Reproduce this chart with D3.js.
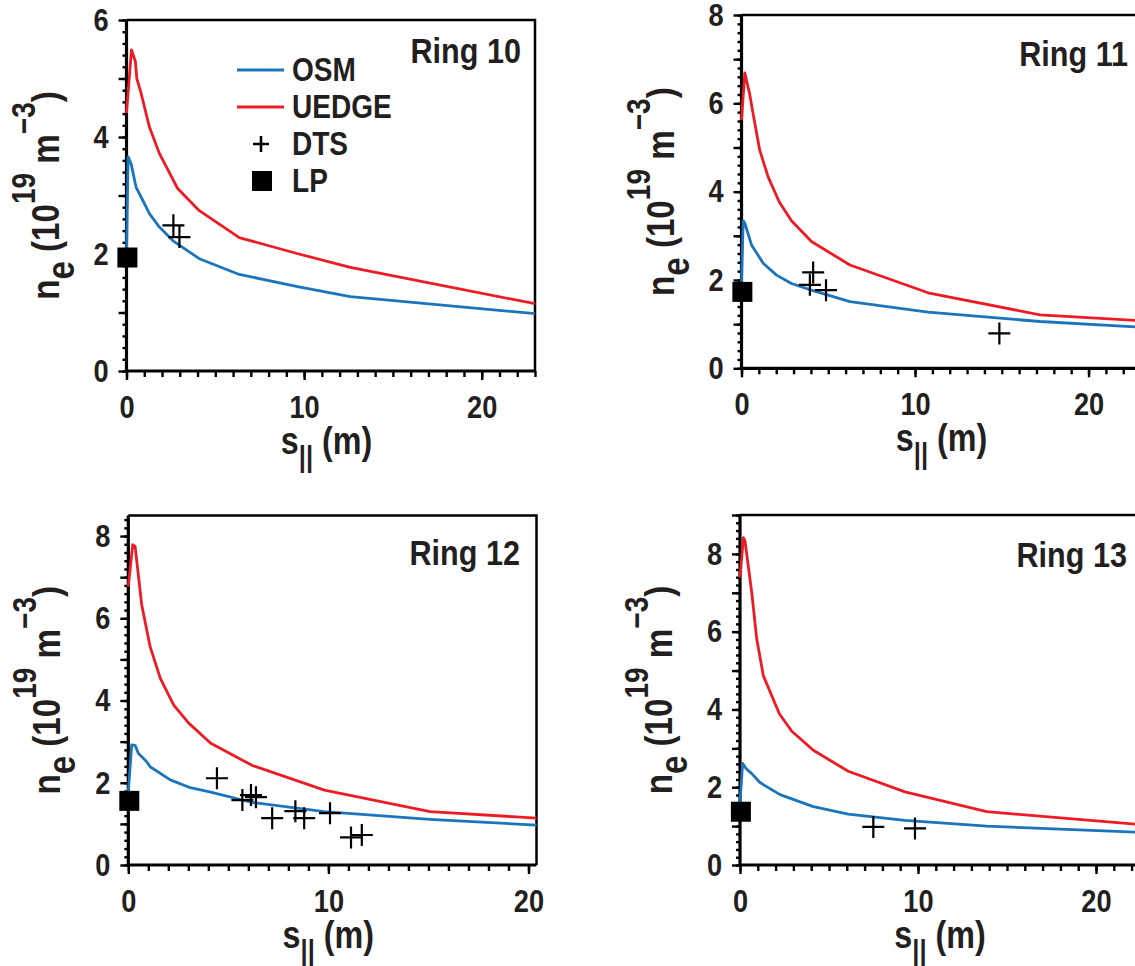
<!DOCTYPE html>
<html>
<head>
<meta charset="utf-8">
<script src="https://cdn.jsdelivr.net/npm/d3@7.9.0/dist/d3.min.js"></script>
<style>
  body { margin: 0; background: #fff; }
  svg text { font-family: "Liberation Sans", Arial, sans-serif; font-weight: bold; fill: #231f20; }
</style>
</head>
<body>
<svg id="chart" width="1135" height="966"></svg>
<script>
// values: [s_par (m), n_e (1e19 m^-3)]
const ring10Osm = [[0, 2.0], [0.09, 3.66], [0.26, 3.54], [0.54, 3.14], [0.73, 3.03], [1.29, 2.69], [1.85, 2.46], [2.6, 2.23], [4.1, 1.92], [6.35, 1.65], [9.7, 1.44], [12.6, 1.27], [23.0, 0.98]];
const ring10Uedge = [[0, 4.41], [0.28, 5.49], [0.5, 5.29], [0.58, 5.0], [0.83, 4.74], [1.29, 4.17], [1.85, 3.72], [2.88, 3.12], [4.1, 2.74], [6.35, 2.28], [9.7, 2.0], [12.6, 1.77], [23.0, 1.15]];
const ring10Dts = [[2.64, 2.49], [2.98, 2.29]];
const ring10Lp = [[0.05, 1.94]];

const ring11Osm = [[0, 1.96], [0.1, 3.34], [0.19, 3.29], [0.58, 2.79], [1.25, 2.38], [2.02, 2.11], [2.88, 1.92], [4.03, 1.77], [6.25, 1.51], [10.75, 1.27], [17.2, 1.06], [23.0, 0.93]];
const ring11Uedge = [[0, 5.62], [0.19, 6.69], [0.48, 6.19], [0.63, 5.85], [1.05, 4.94], [1.53, 4.34], [2.17, 3.77], [2.88, 3.34], [4.03, 2.87], [6.25, 2.34], [10.75, 1.71], [17.2, 1.21], [23.0, 1.08]];
const ring11Dts = [[4.13, 2.17], [3.94, 1.89], [4.87, 1.77], [14.86, 0.79]];
const ring11Lp = [[0.05, 1.73]];

const ring12Osm = [[0, 1.78], [0.17, 2.92], [0.34, 2.91], [0.5, 2.72], [0.92, 2.51], [1.09, 2.39], [2.1, 2.07], [3.1, 1.88], [4.12, 1.77], [6.2, 1.52], [9.8, 1.30], [15.08, 1.11], [20.4, 0.97]];
const ring12Uedge = [[0, 6.77], [0.22, 7.79], [0.34, 7.75], [0.67, 6.33], [1.09, 5.31], [1.6, 4.54], [2.27, 3.89], [3.02, 3.45], [4.12, 2.96], [6.2, 2.42], [9.8, 1.82], [15.08, 1.30], [20.4, 1.14]];
const ring12Dts = [[4.43, 2.11], [5.7, 1.58], [6.13, 1.70], [6.38, 1.65], [7.19, 1.14], [8.35, 1.31], [8.79, 1.14], [10.08, 1.26], [11.13, 0.67], [11.67, 0.73]];
const ring12Lp = [[0.05, 1.56]];

const ring13Osm = [[0, 1.62], [0.15, 2.61], [0.34, 2.48], [0.66, 2.35], [1.12, 2.12], [2.25, 1.81], [4.12, 1.50], [6.08, 1.31], [9.27, 1.15], [13.86, 1.0], [23.0, 0.83]];
const ring13Uedge = [[0, 7.39], [0.19, 8.42], [0.28, 8.33], [0.66, 7.01], [0.94, 5.81], [1.31, 4.87], [2.21, 3.89], [2.91, 3.44], [4.12, 2.95], [6.08, 2.41], [9.27, 1.88], [13.86, 1.37], [23.0, 1.02]];
const ring13Dts = [[7.49, 0.98], [9.83, 0.94]];
const ring13Lp = [[0.05, 1.37]];

const ringNames = ["Ring 10", "Ring 11", "Ring 12", "Ring 13"];
const legendLabels = ["OSM", "UEDGE", "DTS", "LP"];
const xTickLabels = [0, 10, 20];

const blue = "#1b75bc", red = "#ed1c24";
const SQ = 0.85; // horizontal squeeze to mimic a condensed bold face

// plot boxes in page pixels
const panels = [
  { name: ringNames[0], osm: ring10Osm, uedge: ring10Uedge, dts: ring10Dts, lp: ring10Lp,
    x0: 126.5, x1: 535, y0: 371, y1: 20, xmax: 23, ymax: 6, ringX: 521, ringY: 63, legend: true },
  { name: ringNames[1], osm: ring11Osm, uedge: ring11Uedge, dts: ring11Dts, lp: ring11Lp,
    x0: 741.5, x1: 1140.6, y0: 368.3, y1: 15, xmax: 23, ymax: 8, ringX: 1128, ringY: 66 },
  { name: ringNames[2], osm: ring12Osm, uedge: ring12Uedge, dts: ring12Dts, lp: ring12Lp,
    x0: 128.3, x1: 536.5, y0: 865, y1: 515.5, xmax: 20.4, ymax: 8.5, ringX: 520, ringY: 565 },
  { name: ringNames[3], osm: ring13Osm, uedge: ring13Uedge, dts: ring13Dts, lp: ring13Lp,
    x0: 740, x1: 1149.4, y0: 865, y1: 515, xmax: 23, ymax: 9, ringX: 1127, ringY: 567 }
];

const svg = d3.select("#chart");

function crossPath(size) {
  const h = size / 2;
  return `M${-h},0H${h}M0,${-h}V${h}`;
}

function label(parent, x, y, size, anchor, rot) {
  return parent.append("text")
    .attr("transform", `translate(${x},${y})${rot ? " rotate(-90)" : ""} scale(${SQ},1)`)
    .attr("text-anchor", anchor).attr("font-size", size);
}

panels.forEach(p => {
  const x = d3.scaleLinear().domain([0, p.xmax]).range([p.x0, p.x1]);
  const y = d3.scaleLinear().domain([0, p.ymax]).range([p.y0, p.y1]);
  const g = svg.append("g");

  // frame (top and right thinner)
  g.append("path")
    .attr("d", `M${p.x0},${p.y1}H${p.x1}V${p.y0}`)
    .attr("fill", "none").attr("stroke", "#000").attr("stroke-width", 2.5);

  // y axis: minor 0.2, integer ticks, labels on even
  const yMinor = d3.range(0, p.ymax + 1e-6, 0.2).map(v => +v.toFixed(1));
  const yInt = d3.range(0, Math.floor(p.ymax) + 1);
  g.append("g").attr("transform", `translate(${p.x0},0)`)
    .call(d3.axisLeft(y).tickValues(yMinor).tickSize(4).tickFormat(""))
    .call(a => a.select(".domain").remove())
    .call(a => a.selectAll("line").attr("stroke-width", 2.4));
  g.append("g").attr("transform", `translate(${p.x0},0)`)
    .call(d3.axisLeft(y).tickValues(yInt).tickSize(8).tickPadding(10)
      .tickFormat(d => d % 2 === 0 ? d : ""))
    .call(a => a.select(".domain").remove())
    .call(a => a.selectAll("line").attr("stroke-width", 2.4))
    .call(a => a.selectAll("text").attr("font-size", 32).attr("font-family", null)
      .attr("fill", "#231f20").attr("x", -18 / SQ).attr("transform", `scale(${SQ},1)`));

  // x axis: minor every 1, major every 10
  const xMinor = d3.range(0, Math.floor(p.xmax) + 1);
  g.append("g").attr("transform", `translate(0,${p.y0})`)
    .call(d3.axisBottom(x).tickValues(xMinor).tickSize(6).tickFormat(""))
    .call(a => a.select(".domain").remove())
    .call(a => a.selectAll("line").attr("stroke-width", 2.4));
  g.append("g").attr("transform", `translate(0,${p.y0})`)
    .call(d3.axisBottom(x).tickValues(xTickLabels).tickSize(9).tickPadding(15))
    .call(a => a.select(".domain").remove())
    .call(a => a.selectAll("line").attr("stroke-width", 2.4))
    .call(a => a.selectAll("text").attr("font-size", 32).attr("font-family", null)
      .attr("fill", "#231f20").attr("transform", `scale(${SQ},1)`));

  // axis lines (thick left and bottom)
  g.append("path")
    .attr("d", `M${p.x0},${p.y1}V${p.y0}H${p.x1}`)
    .attr("fill", "none").attr("stroke", "#000").attr("stroke-width", 3.2);

  // curves
  const line = d3.line().x(d => x(d[0])).y(d => y(d[1]));
  const plot = g.append("g");
  plot.append("path").datum(p.uedge).attr("d", line)
    .attr("fill", "none").attr("stroke", red).attr("stroke-width", 2.8).attr("stroke-linejoin", "round");
  plot.append("path").datum(p.osm).attr("d", line)
    .attr("fill", "none").attr("stroke", blue).attr("stroke-width", 2.8).attr("stroke-linejoin", "round");

  plot.selectAll(".dts").data(p.dts).join("path")
    .attr("transform", d => `translate(${x(d[0])},${y(d[1])})`)
    .attr("d", crossPath(22)).attr("stroke", "#000").attr("stroke-width", 2.2);
  plot.selectAll(".lp").data(p.lp).join("rect")
    .attr("x", d => x(d[0]) - 10).attr("y", d => y(d[1]) - 10)
    .attr("width", 20).attr("height", 20).attr("fill", "#000");

  // ring label
  label(g, p.ringX, p.ringY, 36, "end").text(p.name);

  // axis titles
  const xt = label(g, p.x0 + 200, p.y0 + 83, 38, "middle");
  xt.append("tspan").text("s");
  xt.append("tspan").attr("font-size", 30).attr("dy", 13).text("||");
  xt.append("tspan").attr("dy", -13).text(" (m)");

  const cy = (p.y0 + p.y1) / 2;
  const yt = label(g, p.x0 - 68, cy, 39, "middle", true);
  yt.append("tspan").text("n");
  yt.append("tspan").attr("dy", 15).text("e");
  yt.append("tspan").attr("dy", -15).text(" (10");
  yt.append("tspan").attr("dy", -24).attr("font-size", 33).text("19");
  yt.append("tspan").attr("dy", 24).text(" m");
  yt.append("tspan").attr("dy", -24).attr("font-size", 33).text("\u22123");
  yt.append("tspan").attr("dy", 24).text(")");

  // legend
  if (p.legend) {
    const lg = g.append("g");
    const lx = 237, lt = 292, rows = [70, 107, 144, 181];
    lg.append("line").attr("x1", lx).attr("x2", 284).attr("y1", rows[0]).attr("y2", rows[0])
      .attr("stroke", blue).attr("stroke-width", 2.8);
    lg.append("line").attr("x1", lx).attr("x2", 284).attr("y1", rows[1]).attr("y2", rows[1])
      .attr("stroke", red).attr("stroke-width", 2.8);
    lg.append("path").attr("transform", `translate(261,${rows[2]})`).attr("d", crossPath(16))
      .attr("stroke", "#000").attr("stroke-width", 2.6);
    lg.append("rect").attr("x", 252).attr("y", rows[3] - 10).attr("width", 20).attr("height", 20).attr("fill", "#000");
    legendLabels.forEach((t, i) => {
      label(lg, lt, rows[i] + 11, 33, "start").text(t);
    });
  }
});
</script>
</body>
</html>
